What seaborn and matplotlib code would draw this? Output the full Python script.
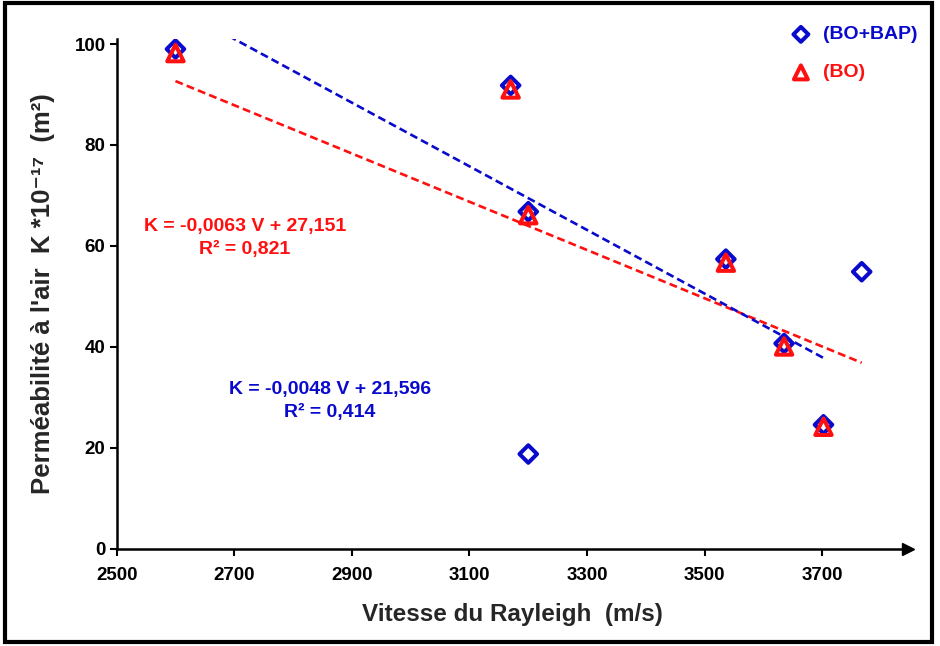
import numpy as np
import pandas as pd
import matplotlib
matplotlib.use('Agg')
import matplotlib.pyplot as plt
from matplotlib.patches import Rectangle
import seaborn as sns

# Data
V_BO_BAP = [2600, 3170, 3200, 3200, 3536, 3635, 3702, 3767]
K_BO_BAP = [99.0, 91.8, 66.8, 18.8, 57.4, 40.7, 24.6, 54.9]
V_BO = [2600, 3170, 3200, 3536, 3635, 3702]
K_BO = [98.2, 91.0, 66.1, 56.7, 40.1, 24.2]

X_TICKS = [2500, 2700, 2900, 3100, 3300, 3500, 3700]
Y_TICKS = [0, 20, 40, 60, 80, 100]

BLUE = "#0A0ACC"
RED = "#FF1010"

sns.set_theme(style="white")
plt.rcParams['font.family'] = ['Liberation Sans', 'DejaVu Sans']
plt.rcParams['font.weight'] = 'bold'

fig = plt.figure(figsize=(9.4, 6.46), dpi=100)
ax = fig.add_axes([0.1241, 0.1502, 0.8414, 0.7895])

df_bap = pd.DataFrame({"V": V_BO_BAP, "K": K_BO_BAP})
df_bo = pd.DataFrame({"V": V_BO, "K": K_BO})

# trend lines (linear fits), colours as in the original figure
a1, b1 = np.polyfit(df_bap["V"], df_bap["K"], 1)
xs1 = np.array([df_bap["V"].min(), df_bap["V"].max()])
ax.plot(xs1, a1 * xs1 + b1, color=RED, lw=1.9, dashes=(3, 1.6), zorder=2)
a2, b2 = np.polyfit(df_bo["V"], df_bo["K"], 1)
xs2 = np.array([df_bo["V"].min(), df_bo["V"].max()])
ax.plot(xs2, a2 * xs2 + b2, color=BLUE, lw=1.9, dashes=(3, 1.6), zorder=2)

sns.scatterplot(data=df_bap, x="V", y="K", ax=ax, marker="D", s=80,
                facecolor="none", edgecolor=BLUE, linewidth=2.9,
                label="(BO+BAP)", zorder=3)
sns.scatterplot(data=df_bo, x="V", y="K", ax=ax, marker="^", s=140,
                facecolor="none", edgecolor=RED, linewidth=2.9,
                label="(BO)", zorder=4)

ax.set_xlim(2500, 3845)
ax.set_ylim(0, 101)
ax.set_xticks(X_TICKS)
ax.set_yticks(Y_TICKS)
for s in ["top", "right"]:
    ax.spines[s].set_visible(False)
for s in ["left", "bottom"]:
    ax.spines[s].set_color("black")
    ax.spines[s].set_linewidth(1.8)
ax.tick_params(direction="out", length=5, width=1.5, colors="black",
               labelsize=13.5, left=True, bottom=True)
ax.tick_params(axis="y", pad=3)
ax.tick_params(axis="x", pad=8)
for lbl in ax.get_xticklabels() + ax.get_yticklabels():
    lbl.set_fontweight("bold")

# axis arrows
ax.plot(1, 0, marker=">", color="black", ms=8, transform=ax.get_yaxis_transform(), clip_on=False)
ax.plot(0, 1, marker="^", color="black", ms=8, transform=ax.get_xaxis_transform(), clip_on=False)

ax.set_xlabel("Vitesse du Rayleigh  (m/s)", fontsize=17.5, fontweight="bold", labelpad=14)
ax.set_ylabel("Perméabilité à l'air  K *10⁻¹⁷  (m²)", fontsize=18.5, fontweight="bold", labelpad=14)

ax.text(2718, 61.6, "K = -0,0063 V + 27,151\nR² = 0,821", color=RED, fontsize=14,
        fontweight="bold", ha="center", va="center", linespacing=1.4)
ax.text(2863, 29.3, "K = -0,0048 V + 21,596\nR² = 0,414", color=BLUE, fontsize=14,
        fontweight="bold", ha="center", va="center", linespacing=1.4)

leg = ax.legend(loc="upper right", bbox_to_anchor=(1.035, 1.06), frameon=False,
                handletextpad=0.15, labelspacing=1.05, markerscale=0.85,
                prop={"weight": "bold", "size": 14}, labelcolor=[BLUE, RED])

fig.patches.append(Rectangle((0.005, 0.006), 0.987, 0.99, transform=fig.transFigure,
                             fill=False, edgecolor="black", linewidth=3))

fig.savefig("out.png", dpi=100)
